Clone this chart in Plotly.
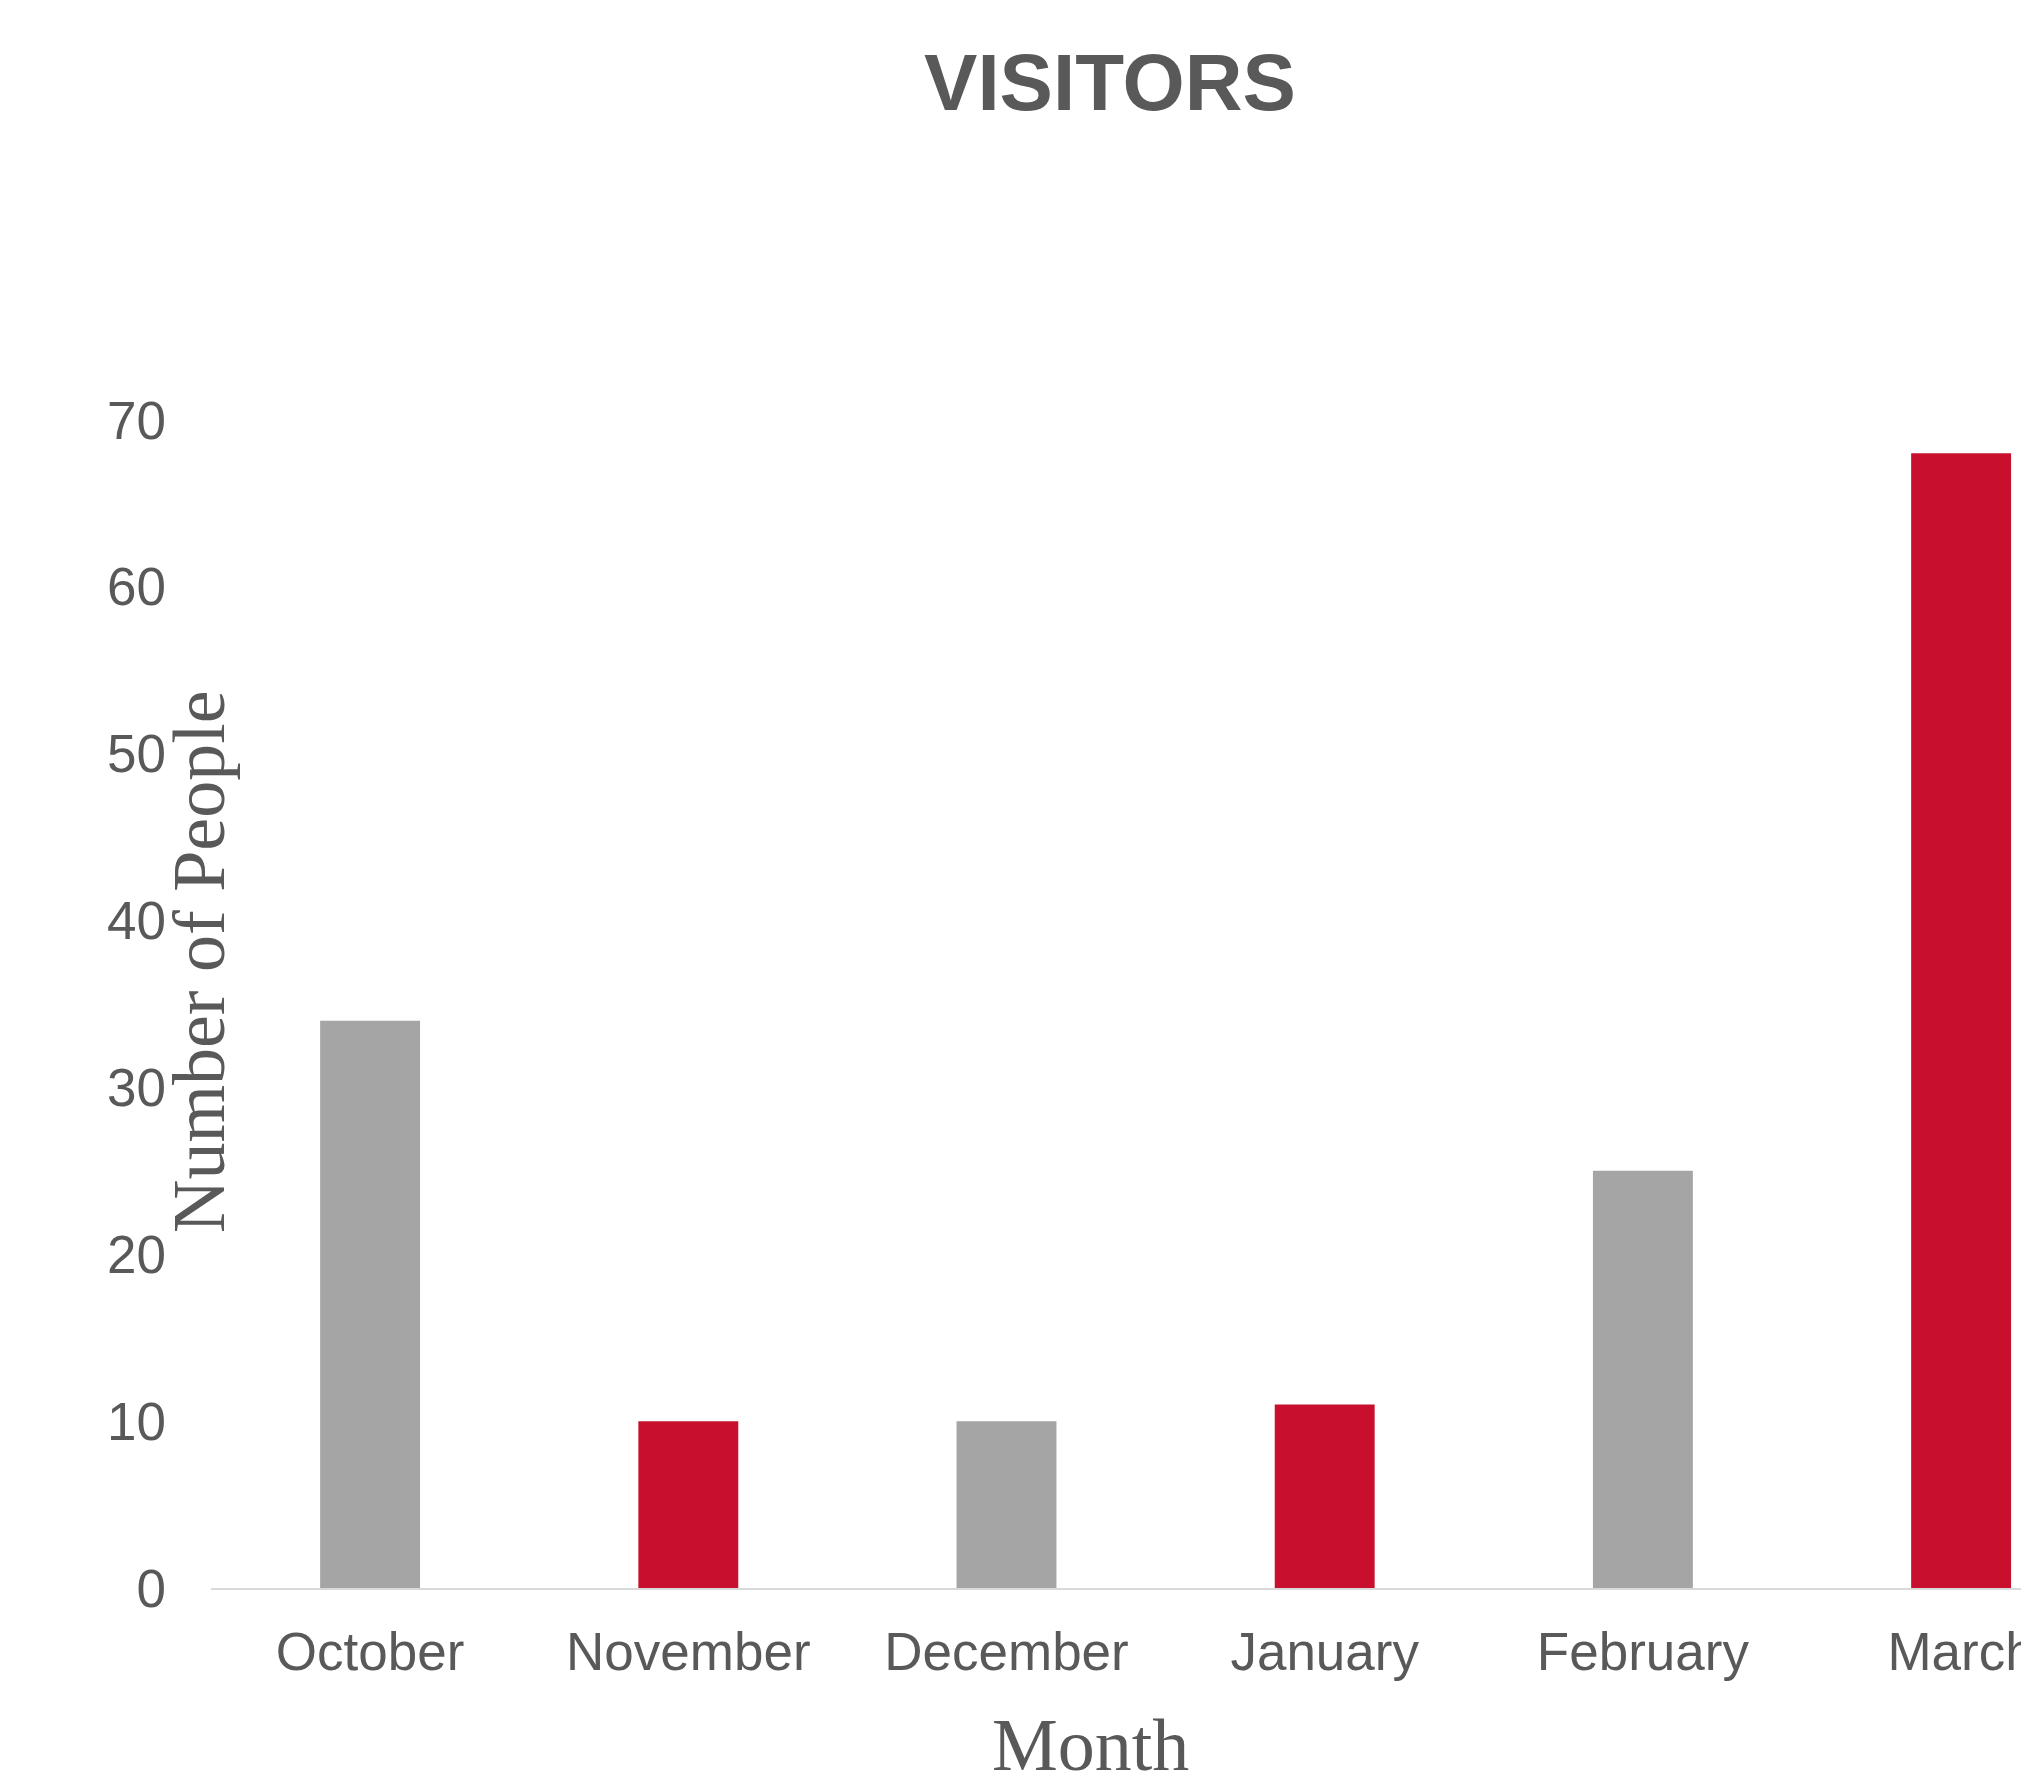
import plotly.graph_objects as go

months = ["October", "November", "December", "January", "February", "March"]
visitors = [34, 10, 10, 11, 25, 68]
bar_colors = ["#A5A5A5", "#C8102E", "#A5A5A5", "#C8102E", "#A5A5A5", "#C8102E"]
y_ticks = [0, 10, 20, 30, 40, 50, 60, 70]

OFF = 0
PAGE_W, PAGE_H = 2021, 1771
W, H = PAGE_W - OFF, PAGE_H - OFF

plot_left = 211 - OFF
plot_top = 420 - OFF
plot_bottom = 1588 - OFF
L, R = plot_left, 0
T, B = plot_top, H - plot_bottom
plot_w = W - L
plot_h = plot_bottom - plot_top
band = 318.2

fig = go.Figure(
    go.Bar(
        x=months,
        y=visitors,
        marker=dict(color=bar_colors, line=dict(width=0)),
        hoverinfo="skip",
    )
)

text_col = "#595959"
sans = "Liberation Sans, Arial, sans-serif"
serif = "Liberation Serif, Times New Roman, serif"

fig.update_layout(
    width=W,
    height=H,
    margin=dict(l=L, r=R, t=T, b=B, pad=0, autoexpand=False),
    paper_bgcolor="white",
    plot_bgcolor="white",
    bargap=0.686,
    showlegend=False,
    title=dict(
        text="<b>VISITORS</b>",
        font=dict(family=sans, size=80, color=text_col),
        xref="container",
        yref="container",
        x=(1110 - OFF) / W,
        y=1 - (82 - OFF) / H,
        xanchor="center",
        yanchor="middle",
    ),
    xaxis=dict(
        type="category",
        range=[-0.5, -0.5 + plot_w / band],
        automargin=False,
        showgrid=False,
        showline=True,
        linecolor="#D9D9D9",
        linewidth=2,
        ticks="",
        tickfont=dict(family=sans, size=53, color=text_col),
        ticklabelstandoff=16,
        zeroline=False,
        fixedrange=True,
    ),
    yaxis=dict(
        range=[0, 70],
        tickvals=y_ticks,
        automargin=False,
        showgrid=False,
        showline=False,
        zeroline=False,
        ticks="",
        tickfont=dict(family=sans, size=53, color=text_col),
        ticklabelstandoff=44,
        fixedrange=True,
    ),
    annotations=[
        dict(
            text="Number of People",
            textangle=-90,
            xref="paper",
            yref="paper",
            x=((199 - OFF) - plot_left) / plot_w,
            y=(plot_bottom - (962 - OFF)) / plot_h,
            xanchor="center",
            yanchor="middle",
            showarrow=False,
            font=dict(family=serif, size=74, color=text_col),
        ),
        dict(
            text="Month",
            xref="paper",
            yref="paper",
            x=((1090 - OFF) - plot_left) / plot_w,
            y=(plot_bottom - (1745 - OFF)) / plot_h,
            xanchor="center",
            yanchor="middle",
            showarrow=False,
            font=dict(family=serif, size=74, color=text_col),
        ),
    ],
)

fig.write_html(
    "out.html",
    config={"displayModeBar": False},
    post_script="document.body.style.margin='0';document.body.style.overflow='hidden';",
)
